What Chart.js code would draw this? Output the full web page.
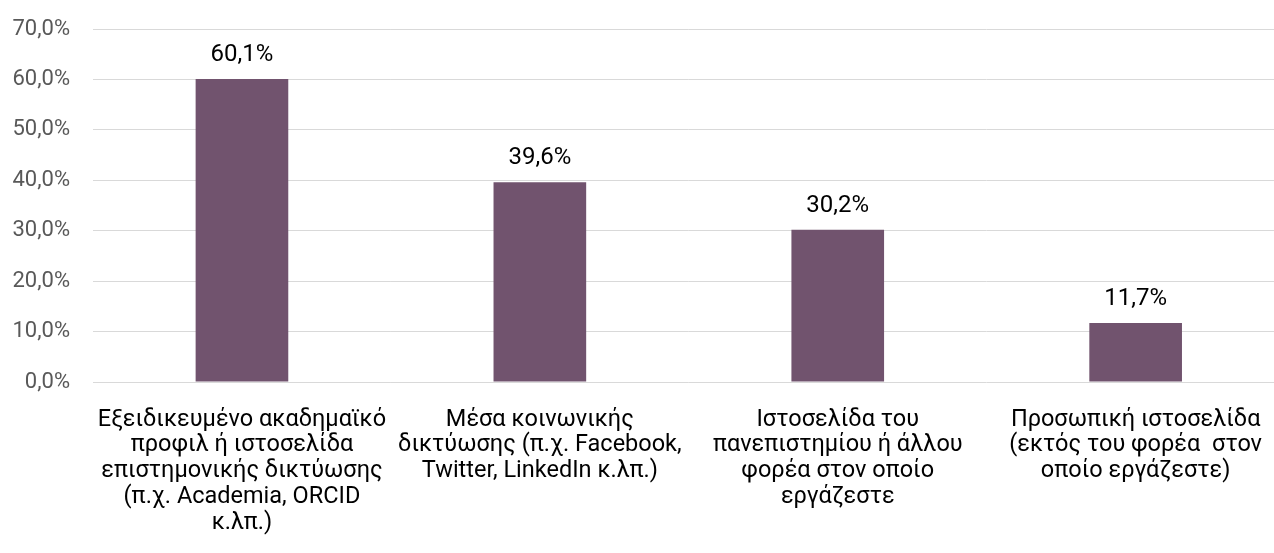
<!DOCTYPE html>
<html>
<head>
<meta charset="utf-8">
<script src="https://cdn.jsdelivr.net/npm/chart.js@4"></script>
<style>
    html, body { margin: 0; padding: 0; background: #fff; overflow: hidden; }
    #wrap { width: 1287px; height: 553px; }
</style>
</head>
<body>
<div id="wrap"><canvas id="barChart"></canvas></div>
<script>
// δεδομένα
const categories = [
    ['Εξειδικευμένο ακαδημαϊκό', 'προφιλ ή ιστοσελίδα', 'επιστημονικής δικτύωσης', '(π.χ. Academia, ORCID', 'κ.λπ.)'],
    ['Μέσα κοινωνικής', 'δικτύωσης (π.χ. Facebook,', 'Twitter, LinkedIn κ.λπ.)'],
    ['Ιστοσελίδα του', 'πανεπιστημίου ή άλλου', 'φορέα στον οποίο', 'εργάζεστε'],
    ['Προσωπική ιστοσελίδα', '(εκτός του φορέα  στον', 'οποίο εργάζεστε)']
];
const values = [60.1, 39.6, 30.2, 11.7];
const yTicks = [0, 10, 20, 30, 40, 50, 60, 70];

const FONT = 'Roboto, "Noto Sans", sans-serif';
const fmt = v => v.toFixed(1).replace('.', ',') + '%';

// ετικέτες τιμών πάνω από τις μπάρες
const valueLabels = {
    id: 'valueLabels',
    afterDatasetsDraw(chart) {
        const ctx = chart.ctx;
        const meta = chart.getDatasetMeta(0);
        ctx.save();
        ctx.fillStyle = '#000';
        ctx.font = '24px ' + FONT;
        ctx.textAlign = 'center';
        ctx.textBaseline = 'alphabetic';
        meta.data.forEach((bar, i) => {
            ctx.fillText(fmt(values[i]), bar.x, bar.y - 18);
        });
        ctx.restore();
    }
};

const ctx = document.getElementById('barChart').getContext('2d');
new Chart(ctx, {
    type: 'bar',
    data: {
        labels: categories,
        datasets: [{
            data: values,
            backgroundColor: '#71536e',
            barPercentage: 0.311,
            categoryPercentage: 1.0
        }]
    },
    options: {
        responsive: true,
        maintainAspectRatio: false,
        animation: false,
        layout: { padding: { top: 29, left: 0, right: 0, bottom: 0 } },
        scales: {
            x: {
                grid: { display: false, drawTicks: false },
                border: { display: false },
                ticks: {
                    color: '#000',
                    font: { family: FONT, size: 23.5, lineHeight: 1.095 },
                    padding: 25,
                    maxRotation: 0,
                    autoSkip: false
                },
                afterFit: scale => { scale.height = 171; }
            },
            y: {
                min: 0,
                max: 70,
                afterBuildTicks: scale => { scale.ticks = yTicks.map(v => ({ value: v })); },
                grid: { color: '#d9d9d9', lineWidth: 1, drawTicks: false },
                border: { display: false },
                ticks: {
                    color: '#595959',
                    font: { family: FONT, size: 22, lineHeight: 0.5 },
                    padding: 23,
                    callback: v => fmt(v)
                },
                afterFit: scale => {
                    scale.width = 93;
                    scale.paddingTop = 0;
                    scale.paddingBottom = 0;
                }
            }
        },
        plugins: {
            legend: { display: false },
            tooltip: { enabled: false }
        }
    },
    plugins: [valueLabels]
});
</script>
</body>
</html>
